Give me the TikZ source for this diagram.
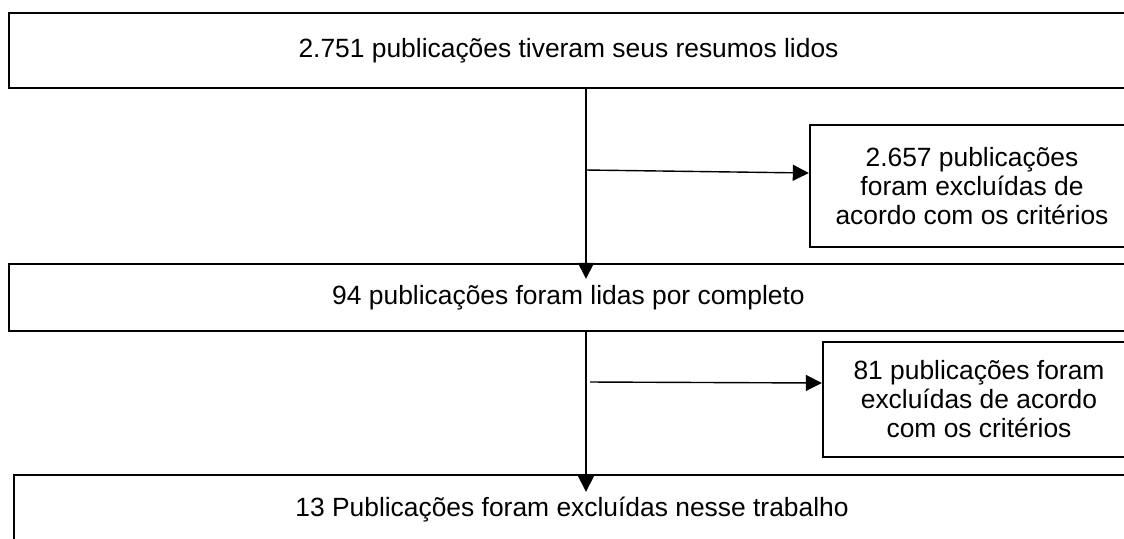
\documentclass[tikz,border=0pt]{standalone}
\usepackage{fontspec}
\setmainfont{Liberation Sans}
\usetikzlibrary{arrows.meta}

\begin{document}
\begin{tikzpicture}[x=0.5pt,y=0.5pt,yscale=-1,
    box/.style={draw, line width=1.2pt, align=center, inner sep=0pt, font=\fontsize{13.2}{14.5}\selectfont},
    link/.style={line width=0.7pt, -{Triangle[length=8pt,width=8pt]}}]

    \useasboundingbox (0,0) rectangle (1124,538);
    \clip (0,0) rectangle (1124,538);

    \draw (568.5,50.5) node [box, minimum width=559.5pt, minimum height=37.5pt] (lidos) {2.751 publicações tiveram seus resumos lidos};
    \draw (972,186) node [box, minimum width=162pt, minimum height=61pt] (excl1) {2.657 publicações\\foram excluídas de\\acordo com os critérios};
    \draw (568.5,297.5) node [box, minimum width=559.5pt, minimum height=33.5pt] (completo) {94 publicações foram lidas por completo};
    \draw (979,399.5) node [box, minimum width=156pt, minimum height=57.5pt] (excl2) {81 publicações foram\\excluídas de acordo\\com os critérios};
    \draw (572,510) node [box, minimum width=558pt, minimum height=35pt] (trabalho) {13 Publicações foram excluídas nesse trabalho};

    \coordinate (trunk) at (586,0);
    \coordinate (branch1) at (586,170);
    \coordinate (branch2) at (590,382);

    \draw [link, shorten >=-8pt] (lidos.south -| trunk) -- (completo.north -| trunk);
    \draw [link, shorten >=-9pt] (completo.south -| trunk) -- (trabalho.north -| trunk);
    \draw [link] (branch1) -- ([yshift=-6.5pt]excl1.west);
    \draw [link] (branch2) -- ([yshift=-8.25pt]excl2.west);

\end{tikzpicture}
\end{document}
